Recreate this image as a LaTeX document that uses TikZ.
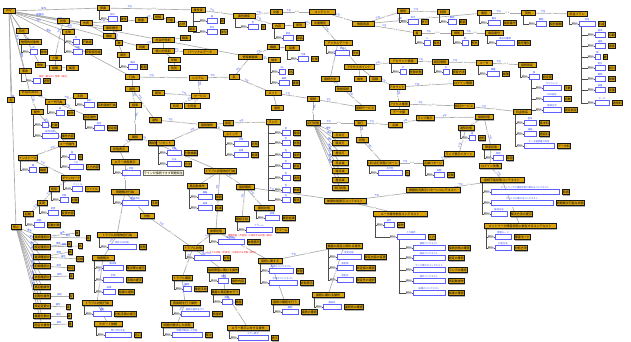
\documentclass[tikz,border=0pt]{standalone}
\usepackage{fontspec}
\newfontfamily\jp{Noto Sans CJK JP}
\usetikzlibrary{shadows,calc}
\pgfdeclarelayer{bg}
\pgfsetlayers{bg,main}
\definecolor{gold}{RGB}{218,163,14}
\definecolor{bbl}{RGB}{95,95,255}
\definecolor{btx}{RGB}{40,70,255}
\newcommand\ft{\jp\fontsize{3}{3.4}\selectfont}
\newcommand\fs{\jp\fontsize{2.3}{2.6}\selectfont}
\tikzset{
 gd/.style={draw=black!90,line width=0.6pt,fill=gold,inner sep=0.6pt,minimum height=5.4pt,font=\ft,text=black,
   drop shadow={shadow xshift=0.8pt,shadow yshift=-0.8pt,fill=black!60}},
 bb/.style={draw=bbl,line width=0.7pt,fill=white,minimum height=5pt,inner sep=0pt},
 bl/.style={font=\fs,text=btx,inner sep=0.2pt,anchor=south},
 pl/.style={font=\fs,text=black!85,fill=black!18,inner sep=0.3pt},
 po/.style={draw=black!70,line width=0.85pt},
 ed/.style={draw=black!33,line width=0.65pt},
 el/.style={font=\fs,text=black!55,fill=white,inner sep=0.2pt},
 eb/.style={font=\fs,text=btx,inner sep=0.2pt},
 rt/.style={font=\fs,text=red,inner sep=0pt},
 pale/.style={draw=black!60,line width=0.5pt,fill=yellow!12,font=\ft,inner sep=0.6pt,minimum height=5pt},
}
\newcommand\Gd[5]{\node[gd,minimum width=#4pt] (#1) at (#2,#3) {#5};}
\newcommand\Sb[6][11]{%
 \path let \p1=(#2.south west) in node[bb,anchor=west,minimum width=#5pt] (#3) at (\x1+#1pt,-#4pt) {};
 \node[bl] (#3l) at (#3.north) {#6};
 \draw[po] ([xshift=2.5pt]#2.south west) |- (#3.west);
 \node[pl,anchor=east] (#3p) at ([xshift=-0.5pt]#3.west) {部分1};}
\newcommand\Sl[7][11]{\Sb[#1]{#2}{#3}{#4}{#5}{#6}\node[gd,anchor=west] (#3g) at ([xshift=2.5pt]#3.east) {#7};}
\newcommand\Ed[3][.25]{\draw[ed] (#2) -- (#3) node[el,pos=.55,sloped]{is-a} node[eb,pos=#1,sloped,above=0pt]{下位};}
\newcommand\Eb[3][.3]{\draw[ed] (#2) -- (#3) node[eb,pos=#1,sloped,above=0pt]{属性};}
\newcommand\En[2]{\draw[ed] (#1) -- (#2);}
\begin{document}
\begin{tikzpicture}[x=1pt,y=-1pt]
\useasboundingbox (0,0) rectangle (631,342);
% ---------------- left / top-left
\Gd{any}{9}{11}{12}{Any}
\Gd{a1}{103}{8}{12}{帰属}
\Sl{a1}{s1}{19}{9}{部分}{属性}
\Gd{a2}{63}{21}{12}{状態}
\Gd{a3}{86}{23}{12}{性質}
\Gd{a4}{141}{20}{12}{数量}
\Gd{a5}{112}{28}{18}{関係概念}
\Gd{a6}{22}{31}{12}{存在}
\Gd{a7}{68}{32}{12}{主体}
\Sl{a7}{s2}{42}{6}{役}{行為者}
\Sl{a7}{s3}{52}{9}{対象}{役割保持者}
\Gd{a8}{30}{42}{22}{物理的対象物}
\Sl{a8}{s4}{52}{7}{部}{物体}
\Gd{a10}{109}{36}{12}{機能}
\Gd{a11}{119}{43}{7}{数}
\Gd{a12}{142}{47}{12}{時間}
\Gd{a14}{123}{55}{12}{場所}
\Sl{a14}{s6}{67}{9}{領域}{範囲}
\Gd{a15}{55}{58}{12}{人間}
\Gd{a16}{55}{68}{12}{組織}
\Gd{a17}{72}{68}{12}{集団}
\Gd{a18}{40}{65}{10}{物体}
\Gd{a19}{25}{71}{12}{事象}
\Sl[14]{a19}{s5}{81}{7}{}{過程}
\node[rt] (r1) at (54,77) {依存（部分の）性質（独立）};
\Gd{a21}{132}{77}{14}{行為}
\Gd{a22}{132}{89}{14}{過程}
\Gd{a23}{30}{93}{22}{Proposition}
\Gd{a24}{11}{100}{7}{型}
\Gd{a25}{55}{102}{20}{ユーザ行為}
\Sl{a25}{s7}{113}{8}{操}{操作}
\Gd{a26}{80}{96}{14}{手段}
\Sl{a26}{s8}{105}{10}{目的}{目的達成行為}
\Gd{a28}{135}{105}{12}{結果}
\Gd{a29}{37}{112}{12}{動作}
\Sl{a29}{s9}{125}{6}{対}{対象}
\Sl{a29}{s10}{136}{16}{操作内容}{操作内容}
\Gd{e3}{90}{117}{14}{設定操作}
\Sl{e3}{s11}{128}{10}{設定}{設定値}
\Gd{e4}{67}{144}{18}{ユーザ操作}
\Sl{e4}{s12}{157}{6}{値}{値}
\Sl{e4}{s13}{167}{14}{入力}{入力内容}
\Gd{e5}{28}{158}{18}{インストール}
\Sl{e5}{s14}{170}{7}{機}{機器}
\Gd{e7}{71}{178}{18}{ダウンロード}
\Sl{e7}{s15}{189}{10}{ファイル}{ファイル}
\Gd{e8}{54}{189}{10}{削除}
\Sl{e8}{s16}{200}{8}{対象}{対象}
\Gd{e9}{42}{203}{10}{変更}
\Sl{e9}{s17}{213}{10}{変更}{変更内容}
\Gd{e10}{28}{214}{10}{起動}
\Sl{e10}{s18}{225}{10}{起動}{起動対象}
\Gd{e11}{16}{227}{10}{停止}
\Gd{e16}{135}{137}{14}{確認}
\Gd{e17}{155}{143}{14}{確認結果}
\Gd{e18}{155}{120}{12}{通知}
\Gd{e12}{119}{149}{18}{状態表示}
\Gd{e13}{125}{162}{28}{エラー状態表示}
\Sb{e13}{s19}{173}{18}{状態}
\node[pale,anchor=west] (pl1) at ([xshift=2.5pt]s19.east) {ラインが接続できず問題発生};
\Gd{e14}{125}{192}{28}{問題解決行為}
\Sl{e14}{s20}{203}{26}{解決手段}{手段}
\Gd{e15}{147}{216}{14}{対処}
% ---------------- left column
\foreach \ii/\yy/\tt in {1/237/接続確認中,2/247/設定確認中,3/257/電源確認中,4/266/配線確認中,5/277/状態確認中,6/287/再起動操作,7/296/初期化操作,8/306/設定変更中,9/316/機器交換中,10/325/問合せ操作}
  {\node[gd,minimum width=17pt] (L\ii) at (42,\yy) {\tt};}
\foreach \ii/\xx/\yy/\tt in {1/77/233/機,2/88/238/器,3/69/244/端,4/80/246/末,5/70/252/網,6/80/259/回線,7/71/268/設定,8/71/276/値,9/71/296/型,10/68/307/値,11/69/316/数,12/70/324/量}
  {\node[gd] (R\ii) at (\xx,\yy) {\tt};}
\Gd{i1}{117}{235}{40}{トラブル状態依存行為}
\Sl{i1}{s48}{247}{28}{依存する状態}{状態}
\Gd{i2}{103}{258}{22}{問題解決}
\Sl{i2}{s49}{268}{20}{解決策}{解決策の提示}
\Sl{i2}{s50}{280}{20}{手順}{手順の提示}
\Sl{i2}{s51}{292}{12}{結果}{結果の通知}
\Gd{i3}{97}{303}{30}{トラブル対処行為}
\Sl{i3}{s52}{314}{18}{対処}{対処手順の提示}
\Gd{i4}{108}{324}{28}{サポート依頼}
\Sl{i4}{s53}{335}{26}{問い合わせ先}{窓口}
% ---------------- top middle
\Gd{b1}{198}{10}{14}{属性値}
\Sl[16]{b1}{s69}{21}{10}{値}{値}
\Sl[16]{b1}{s70}{32}{10}{単位}{単位}
\Gd{b2}{244}{16}{22}{属性関係}
\Sl[15]{b2}{s71}{27}{10}{型}{型}
\Gd{b3}{276}{12}{12}{文書}
\Gd{b5}{278}{26}{12}{内容}
\Sl{b5}{s72}{38}{10}{部品}{部品}
\Gd{b6}{299}{25}{12}{表現}
\Gd{b7}{158}{17}{10}{様相}
\Gd{b8}{170}{20}{8}{可能}
\Gd{b9}{182}{24}{8}{必然}
\Gd{b10}{192}{29}{8}{確率}
\Gd{b11}{163}{40}{22}{社会的役割}
\Gd{b12}{185}{38}{10}{職業}
\Gd{b13}{163}{51}{22}{個人的役割}
\Gd{b14}{200}{52}{34}{パーソナルデータ}
\Gd{b15}{174}{60}{12}{年齢}
\Gd{b16}{174}{68}{12}{性別}
\Gd{b17}{273}{47}{12}{機器}
\Gd{b18}{292}{48}{14}{装置}
\Sl[13]{b18}{s73}{59}{10}{仕様}{仕様}
\Gd{b19}{274}{60}{12}{端末}
\Sl{b19}{s74}{72}{6}{OS}{OS}
\Sl{b19}{s75}{83}{10}{画面}{画面}
\Gd{b20}{250}{57}{24}{情報機器類}
\Gd{b21}{234}{77}{10}{系}
\Gd{b22}{198}{78}{18}{システム}
\Gd{b23}{200}{96}{18}{サービス}
\Gd{b24}{273}{93}{16}{ネット}
\Gd{b25}{277}{108}{12}{通信}
\Gd{b27}{158}{93}{12}{提供}
\Gd{b28}{176}{106}{12}{利用}
\Gd{b29}{192}{106}{16}{利用者}
% ---------------- top right
\Gd{c1}{322}{12}{26}{コンテンツ}
\Gd{c2}{320}{23}{18}{文書種別}
\Gd{c3}{363}{24}{22}{情報資源}
\Gd{c4}{338}{43}{28}{デジタルデータ}
\Sl{c4}{s76}{53}{14}{形式}{形式}
\Gd{c6}{403}{11}{12}{権限}
\Sl{c6}{s77}{22}{10}{許可}{許可}
\Gd{c8}{443}{12}{12}{制限}
\Sl{c8}{s78}{22}{8}{範囲}{範囲}
\Gd{c10}{417}{33}{8}{者}
\Sl{c10}{s79}{43}{6}{人}{条件}
\Gd{c12}{457}{33}{12}{規則}
\Sl{c12}{s80}{43}{6}{例}{例外}
\Gd{c13}{403}{61}{28}{アカウント情報}
\Sl{c13}{s81}{72}{6}{状}{登録状態}
\Gd{c15}{440}{62}{16}{認証情報}
\Sl{c15}{s82}{72}{6}{方}{認証方法}
\Gd{c17}{359}{67}{30}{アクセスポイント}
\Gd{c18}{360}{79}{12}{端末}
\Gd{c19}{375}{79}{12}{回線}
\Gd{c20}{330}{79}{18}{接続方法}
\Gd{c21}{343}{89}{16}{無線接続}
\Gd{c22}{397}{87}{16}{アカウント}
\Gd{c23}{313}{99}{12}{接続}
\Gd{c24}{365}{108}{20}{接続サービス}
\Gd{c25}{399}{104}{20}{アクセス権限}
\Gd{c26}{399}{112}{18}{データ量}
\Gd{c27}{463}{83}{20}{ログイン情報}
\Gd{c28}{464}{106}{20}{認証サービス}
\Gd{d1}{484}{13}{14}{電話}
\Sl{d1}{s83}{23}{12}{番号}{電話番号}
\Gd{d2}{528}{13}{14}{契約}
\Sl[15]{d2}{s84}{24}{10}{期間}{契約期間}
\Gd{d3}{577}{14}{20}{料金プラン}
\Sl[12]{d3}{s85}{24}{16}{料金}{料金}
\Sl[16]{s85}{t1}{35}{10}{基本}{月額}
\Sl[16]{s85}{t2}{46}{10}{通話}{通話}
\Sl[16]{s85}{t3}{57}{5}{数}{数}
\Sl[16]{s85}{t4}{68}{10}{割引}{割引}
\Sl[16]{s85}{t5}{79}{10}{期間}{期間}
\Sl[16]{s85}{t6}{90}{10}{容量}{容量}
\Sl[16]{s85}{t7}{103}{14}{データ}{通信料}
\Gd{d4}{494}{33}{18}{電話番号}
\Sl{d4}{s86}{43}{18}{番号の種類}{番号種別}
\Gd{d6}{484}{63}{16}{ルータ}
\Sl{d6}{s87}{74}{12}{機種}{機種}
\Gd{d7}{527}{65}{18}{接続設定}
\Sl{d7}{s88}{77}{10}{値}{設定値}
\Sl[14]{s88}{s89}{88}{18}{IPアドレス}{手動}
\Sl[14]{s88}{s90}{99}{18}{DNS設定}{自動}
\Sl[14]{s88}{s91}{110}{18}{接続方式}{固定設定}
% ---------------- centre
\Gd{f1}{207}{125}{18}{接続操作}
\Gd{f2}{228}{123}{10}{設定}
\Gd{f3}{232}{134}{18}{スイッチ}
\Sl{f3}{s21}{144}{14}{状態}{状態}
\Sl{f3}{s22}{155}{14}{結果}{結果}
\Gd{f4}{165}{143}{18}{リセット}
\Sl{f4}{s23}{153}{14}{対象}{対象機器}
\Sl{f4}{s24}{164}{14}{方法}{方法}
\Gd{f6}{220}{171}{32}{トラブル状態依存行為}
\Gd{f7}{197}{186}{20}{再起動操作}
\Sl{f7}{s25}{197}{14}{機器}{機器}
\Sl{f7}{s26}{208}{14}{結果}{結果}
\Gd{f8}{245}{187}{18}{接続確認}
\Gd{f9}{264}{208}{20}{確認状態}
\Sl{f9}{s27}{218}{14}{結果}{確認結果}
\Gd{f10}{242}{219}{14}{確認手段}
\Sl{f10}{s28}{230}{26}{アラーム}{アラーム}
\Gd{f11}{273}{122}{14}{ランプ}
\Sl[16]{f11}{u1}{133}{8}{色}{電源}
\Sl[16]{f11}{u2}{143}{8}{色}{状態}
\Sl[16]{f11}{u3}{155}{8}{色}{接続}
\Sl[16]{f11}{u4}{166}{8}{色}{認証}
\Sl[16]{f11}{u5}{178}{8}{色}{通信}
\Sl[16]{f11}{u6}{190}{8}{色}{無線}
\Sl[16]{f11}{u7}{200}{8}{色}{警告}
\Gd{g1}{313}{123}{14}{点灯状態}
\foreach \ii/\yy/\tt in {1/135/赤点灯,2/143/緑点灯,3/153/橙点灯,4/163/赤点滅,5/171/緑点滅,6/180/橙点滅,7/188/消灯状態}
  {\node[gd,minimum width=16pt] (m\ii) at (340,\yy) {\tt};}
\Gd{g3}{360}{123}{12}{消灯}
\Gd{g4}{395}{125}{14}{点滅}
\Gd{g5}{425}{118}{18}{ランプ表示}
\Gd{g7}{362}{140}{12}{状態}
\Gd{g8}{383}{163}{32}{LED点灯状態パターン}
\Sl{g8}{s29}{173}{24}{点灯色}{色}
\Gd{g9}{433}{163}{20}{点滅パターン}
\Sl{g9}{s30}{175}{10}{周期}{周期}
\Gd{g10}{459}{154}{30}{ランプ表示パターン}
\Gd{g11}{433}{190}{54}{問題状況表示パターンコンテキスト}
\Gd{g12}{345}{201}{42}{故障状態表示コンテキスト}
\Gd{g13}{400}{214}{54}{ユーザ操作依存コンテキスト}
\Sl{g13}{s31}{225}{10}{操作}{操作}
\Sl[24]{g13}{s32}{237}{28}{入力操作}{入力}
\Sl[16]{s32}{s33}{248}{32}{接続コンテキスト}{接続状態の確認}
\Sl[16]{s32}{s34}{258}{32}{設定コンテキスト}{設定の確認}
\Sl[16]{s32}{s35}{270}{32}{ランプ表示のコンテキスト}{ランプの確認}
\Sl[16]{s32}{s36}{281}{32}{操作コンテキスト}{再起動操作}
\Sl[16]{s32}{s37}{293}{32}{結果のコンテキスト}{結果の確認}
% ---------------- right
\Gd{h1}{522}{112}{18}{料金体系}
\Sl{h1}{s38}{123}{12}{基本}{基本料}
\Sl{h1}{s39}{134}{12}{通話}{通話料}
\Sl{h1}{s40}{146}{30}{データ通信量の料金}{データ料}
\Gd{h2}{484}{117}{18}{接続状態}
\Gd{h7}{466}{128}{16}{通知状態}
\Sl{h7}{s41}{138}{6}{通}{通知}
\Gd{h3}{491}{147}{18}{障害状態}
\Sl{h3}{s42}{158}{10}{原因}{原因}
\Gd{h4}{490}{166}{22}{ログイン失敗}
\Gd{h5}{502}{180}{44}{接続不能状態コンテキスト}
\Sl{h5}{s43}{192}{68}{ネットワークの接続状態に関わるコンテキスト}{原因}
\Sl{h5}{s44}{203}{62}{デバイスに関するコンテキスト}{問題解決可能な状態}
\Sl{h5}{s45}{214}{16}{解決方法}{解決方法の提示}
\Gd{h6}{520}{226}{72}{ネットワーク障害状態に依存するコンテキスト}
\Sl{h6}{s46}{237}{16}{障害モード}{障害モード}
\Sl{h6}{s47}{248}{16}{対処方法}{対処方法}
% ---------------- bottom centre
\Gd{j1}{216}{231}{18}{故障状態}
\Sl{j1}{s54}{242}{26}{故障部分}{故障箇所}
\node[rt] (r2) at (251,235.5) {故障状態（不具合）に依存する状態（部分）};
\Gd{j3}{193}{248}{20}{トラブル状態}
\Sl{j3}{s55}{258}{26}{トラブル}{状態}
\node[rt] (r3) at (232,253) {トラブル状態（不具合）に依存する状態（部分）};
\Gd{j4}{223}{270}{30}{接続障害に関わる操作}
\Sl{j4}{s56}{281}{10}{操作}{操作内容}
\Gd{j5}{270}{261}{24}{接続に関する}
\Sl{j5}{s57}{271}{24}{接続のコンテキスト}{状態}
\Sl{j5}{s58}{283}{28}{状態のコンテキスト}{状態表示}
\Gd{j6}{182}{278}{20}{トラブル確認}
\Sl{j6}{s59}{289}{8}{確認}{確認手段}
\Gd{j7}{225}{292}{28}{機器の再起動を行う}
\Sl{j7}{s60}{302}{10}{機器}{機器}
\Gd{j8}{285}{302}{28}{接続の確認を行う}
\Sl{j8}{s61}{312}{16}{確認}{接続の確認}
\Gd{j9}{185}{303}{30}{再接続を行う操作}
\Sl{j9}{s62}{314}{28}{接続の操作を行う}{再接続}
\Gd{j10}{177}{325}{32}{問題が解決した状態}
\Sl{j10}{s63}{335}{30}{問題が解決した状態}{解決}
\Gd{j11}{248}{328}{42}{エラー表示に対する操作}
\Sl{j11}{s64}{338}{30}{エラー表示}{表示}
\Gd{k1}{344}{246}{36}{機器の設定に関わる操作}
\Sl{k1}{s65}{257}{24}{設定内容}{設定内容の変更}
\Sl{k1}{s66}{268}{16}{設定値}{設定値の確認}
\Sl{k1}{s67}{280}{16}{設定先}{設定先の選択}
\Gd{k2}{328}{295}{32}{接続に関わる操作}
\Sl{k2}{s68}{307}{18}{接続先}{接続先の確認}
% ---------------- edges (one background layer block)
\begin{pgfonlayer}{bg}
\foreach \ii in {1,...,10} {\Eb[.6]{e11}{L\ii}}
\foreach \ii/\pp in {1/1,2/1,3/2,4/2,5/3,6/3,7/4,8/5,9/7,10/8,11/9,12/10} {\Eb[.5]{L\pp}{R\ii}}
\foreach \ii in {1,...,7} {\Eb[.6]{g1}{m\ii}}
\Eb[.35]{any}{a1}\Eb[.55]{any}{a2}\En{any}{a3}\En{any}{a6}\Eb[.5]{any}{a7}\En{any}{a8}
\Eb[.45]{any}{a19}\Eb[.55]{any}{a23}\En{any}{a24}\Eb[.4]{any}{e11}\Eb[.3]{any}{a5}\Eb[.3]{any}{a21}
\Eb[.45]{any}{a12}\Eb[.2]{any}{b20}
\Ed{a1}{b1}\Ed{b1}{b2}\Ed{b2}{b3}\Ed{b3}{c1}\Ed{b2}{b5}\En{b5}{b6}\Ed{c1}{c3}\Ed{b6}{c2}
\Ed{c3}{c6}\Ed{c6}{c8}\Ed{c3}{d1}\Ed{d1}{d2}\Ed{d2}{d3}\Ed{c3}{c10}\Ed{c10}{c12}
\Ed{c2}{c4}\Ed{c4}{c17}\Ed{c4}{c20}\En{c17}{c18}\En{c17}{c19}\Ed{c17}{c13}\Ed{c13}{c15}
\Ed{c12}{d4}\Ed{c15}{d6}\Ed{d6}{d7}\Ed{c20}{c21}\Ed{c19}{c22}\Ed{c22}{c27}\Ed{c22}{c25}
\Ed{c25}{c28}\En{c25}{c26}\Ed{c28}{h1}\Ed{c21}{c24}\Ed{c23}{c24}
\Ed{a21}{b22}\Ed{b22}{b21}\Ed{b21}{b20}\Ed{b20}{b17}\Ed{b20}{b19}\En{b17}{b18}
\Ed{b21}{b24}\En{b24}{b25}\Ed{b24}{c23}\Ed{c23}{g1}\Ed{b22}{b23}\Ed{b23}{b27}
\Ed{b23}{b28}\Ed{b23}{b29}\En{a21}{a22}\Ed{a22}{a28}\Ed{a22}{e18}\Ed{e18}{f1}
\En{f1}{f2}\Ed{f1}{f3}\Ed{f1}{f4}\Ed{f2}{f11}\Ed{a28}{e16}\Ed{e16}{e12}\Ed{e16}{e17}
\En{e12}{e13}\Ed{e13}{e14}\Ed{e14}{i1}\Ed{e14}{e15}\Ed{e17}{f6}\Ed{f6}{f7}\Ed{f6}{f8}
\Ed{f8}{f9}\Ed{f8}{f10}\Ed{f6}{j1}\Ed{e15}{j3}\Ed{j1}{j3}\Ed{j3}{j4}\Ed{j3}{j6}
\Ed{j6}{j9}\Ed{j9}{j10}\Ed{j4}{j7}\Ed{j7}{j11}\Ed{j1}{j5}\Ed{j5}{j8}\Ed{j5}{k1}
\Ed{k1}{k2}\Ed{f8}{g12}\Ed{g12}{g13}\Ed{g12}{g11}\Ed{g11}{h5}\Ed{h5}{h6}\Ed{h5}{h4}
\En{h4}{h3}\Ed{h3}{h2}\Ed{h2}{h7}\Ed{g10}{h7}\Ed{g9}{g10}\Ed{g8}{g9}\Ed{g7}{g8}
\Ed{g3}{g7}\Ed{g1}{g3}\Ed{g3}{g4}\Ed{g4}{g5}\Ed{g5}{h2}\Ed{i1}{i2}\Ed{i2}{i3}\Ed{i3}{i4}
\Ed{a2}{a15}\En{a15}{a16}\Ed{a6}{a18}\En{a18}{a17}\En{a3}{a10}\Ed{a3}{a4}\En{a5}{a11}
\Ed{a5}{a14}\Ed{a12}{b11}\En{b11}{b12}\En{b11}{b13}\Ed{b13}{b14}\En{b13}{b15}\En{b15}{b16}
\Ed{a4}{b7}\En{b7}{b8}\En{b8}{b9}\En{b9}{b10}\Ed{a23}{a25}\Ed{a25}{a26}\Ed{a25}{e3}
\Ed{a23}{a29}\Ed{a29}{e4}\Ed{e4}{e5}\Ed{e5}{e7}\Ed{e7}{e8}\Ed{e8}{e9}\Ed{e9}{e10}
\end{pgfonlayer}
\end{tikzpicture}
\end{document}
